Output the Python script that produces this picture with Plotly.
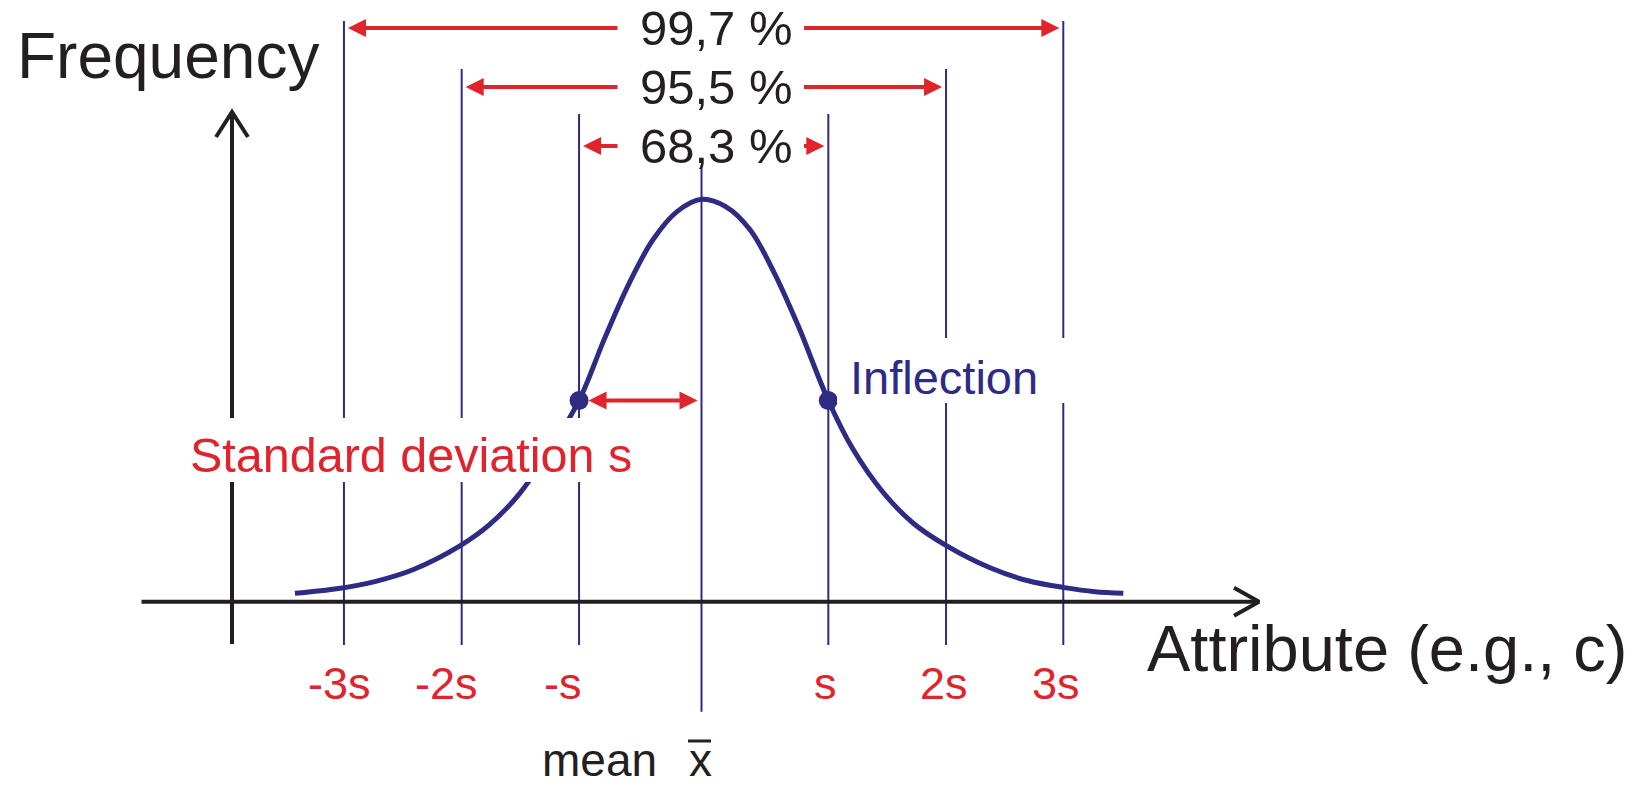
import plotly.graph_objects as go

# ---------------- data ----------------
sigma_labels = ["-3s", "-2s", "-s", "", "s", "2s", "3s"]
sigma_pos = [-2.955, -1.982, -1.012, 0.0, 1.048, 2.021, 2.99]   # position of the ±k·s lines (units of s)

curve_x = [-3.36, -3.0, -2.7, -2.38, -2.0, -1.75, -1.5, -1.25, -1.012, -0.8, -0.6, -0.4, -0.2, 0.0,
           0.2, 0.4, 0.6, 0.8, 1.048, 1.25, 1.5, 1.75, 2.02, 2.38, 2.7, 3.0, 3.25, 3.486]
curve_y = [0.021, 0.033, 0.050, 0.080, 0.138, 0.192, 0.270, 0.380, 0.500, 0.655, 0.790, 0.900, 0.970, 1.0,
           0.982, 0.925, 0.818, 0.685, 0.500, 0.380, 0.272, 0.195, 0.140, 0.085, 0.052, 0.035, 0.025, 0.021]

inflection_y = 0.5
coverage_k = [1, 2, 3]
coverage_labels = ["68,3 %", "95,5 %", "99,7 %"]

# ---------------- layout helpers ----------------
W, H = 1641, 788
PX0, UX = 701.5, 121.0      # pixel of the mean, pixels per s
PY0, UY = 601.7, 402.4      # pixel of the x axis, pixels per unit of frequency


def X(px):
    return (px - PX0) / UX


def Y(py):
    return (PY0 - py) / UY


NAVY = "#2e2b85"
RED = "#e1232b"
INK = "#231f20"
FONT = "Liberation Sans, Arial, sans-serif"

fig = go.Figure()

# vertical reference lines
line_top_px = {0: 165, 1: 114, 2: 69, 3: 21}
vx, vy = [], []
for i, xv in enumerate(sigma_pos):
    level = abs(i - 3)
    bottom = 711.7 if level == 0 else 645
    vx += [xv, xv, None]
    vy += [Y(bottom), Y(line_top_px[level]), None]
fig.add_trace(go.Scatter(x=vx, y=vy, mode="lines", line=dict(color=NAVY, width=2),
                         hoverinfo="skip", showlegend=False))

# axes (black) with open arrow heads
ax_x0, ax_x1 = X(141.5), X(1259)
fig.add_trace(go.Scatter(x=[ax_x0, ax_x1], y=[0, 0], mode="lines",
                         line=dict(color=INK, width=4), hoverinfo="skip", showlegend=False))
fig.add_trace(go.Scatter(x=[X(1259 - 25), ax_x1, X(1259 - 25)], y=[Y(PY0 - 14), 0, Y(PY0 + 14)],
                         mode="lines", line=dict(color=INK, width=4), hoverinfo="skip", showlegend=False))
yx = X(232)
fig.add_trace(go.Scatter(x=[yx, yx], y=[Y(644), Y(112)], mode="lines",
                         line=dict(color=INK, width=4), hoverinfo="skip", showlegend=False))
fig.add_trace(go.Scatter(x=[X(232 - 16), yx, X(232 + 16)], y=[Y(112 + 25), Y(112), Y(112 + 25)],
                         mode="lines", line=dict(color=INK, width=4), hoverinfo="skip", showlegend=False))

# the curve
fig.add_trace(go.Scatter(x=curve_x, y=curve_y, mode="lines",
                         line=dict(color=NAVY, width=5, shape="spline", smoothing=1),
                         hoverinfo="skip", showlegend=False))

# inflection points
fig.add_trace(go.Scatter(x=[sigma_pos[2], sigma_pos[4]], y=[inflection_y, inflection_y], mode="markers",
                         marker=dict(color=NAVY, size=19), hoverinfo="skip", showlegend=False))

shapes = [
    dict(type="rect", xref="x", yref="y", x0=X(132), x1=X(648), y0=Y(482), y1=Y(418),
         fillcolor="white", line=dict(width=0), layer="above"),
    dict(type="rect", xref="x", yref="y", x0=X(837), x1=X(1180), y0=Y(403), y1=Y(338),
         fillcolor="white", line=dict(width=0), layer="above"),
    dict(type="line", xref="x", yref="y", x0=X(688), x1=X(711), y0=Y(741), y1=Y(741),
         line=dict(color=INK, width=3), layer="above"),
]

annotations = []


def text(x, y, s, size, color, xanchor="center"):
    annotations.append(dict(x=x, y=y, xref="x", yref="y", text=s, showarrow=False,
                            xanchor=xanchor, yanchor="middle", borderpad=0,
                            font=dict(family=FONT, size=size, color=color)))


text(X(16), Y(56), "Frequency", 64, INK, "left")
text(X(1146), Y(648), "Attribute (e.g., c)", 65, INK, "left")
text(X(189), Y(455), "Standard deviation s", 48.5, RED, "left")
text(X(849), Y(377), "Inflection", 47, NAVY, "left")
text(X(658), Y(760), "mean", 46, INK, "right")
text(sigma_pos[3] - 1.5 / UX, Y(760), "x", 46, INK)

label_dx_px = [-4, -15, -16, 0, -3, -2, -7]
for lab, xv, dx in zip(sigma_labels, sigma_pos, label_dx_px):
    if lab:
        text(xv + dx / UX, Y(683), lab, 45, RED)

# coverage arrows
row_px = {1: 146, 2: 87, 3: 28}
for k, lab in zip(coverage_k, coverage_labels):
    yy = Y(row_px[k])
    text(X(716), yy, lab, 49, INK)
    for tip, tail in ((sigma_pos[3 - k] + 4 / UX, X(619)), (sigma_pos[3 + k] - 4 / UX, X(802.5))):
        annotations.append(dict(x=tip, y=yy, ax=tail, ay=yy, xref="x", yref="y", axref="x", ayref="y",
                                text="", showarrow=True, arrowhead=2, arrowsize=0.9, arrowwidth=4,
                                arrowcolor=RED, standoff=0, startstandoff=0))

# standard deviation double arrow
annotations.append(dict(x=sigma_pos[3] - 4 / UX, y=inflection_y, ax=sigma_pos[2] + 8 / UX, ay=inflection_y,
                        xref="x", yref="y", axref="x", ayref="y", text="", showarrow=True,
                        arrowhead=2, startarrowhead=2, arrowside="end+start", arrowsize=0.9,
                        startarrowsize=0.9, arrowwidth=4, arrowcolor=RED, standoff=0, startstandoff=0))

fig.update_layout(
    width=W, height=H, autosize=False,
    margin=dict(l=0, r=0, t=0, b=0, pad=0),
    paper_bgcolor="white", plot_bgcolor="white",
    xaxis=dict(range=[X(0), X(W)], visible=False, fixedrange=True),
    yaxis=dict(range=[Y(H), Y(0)], visible=False, fixedrange=True),
    shapes=shapes, annotations=annotations, showlegend=False,
)

fig.write_html("out.html", config={"displayModeBar": False, "staticPlot": True},
               post_script="document.body.style.margin='0px';document.documentElement.style.overflow='hidden';")
